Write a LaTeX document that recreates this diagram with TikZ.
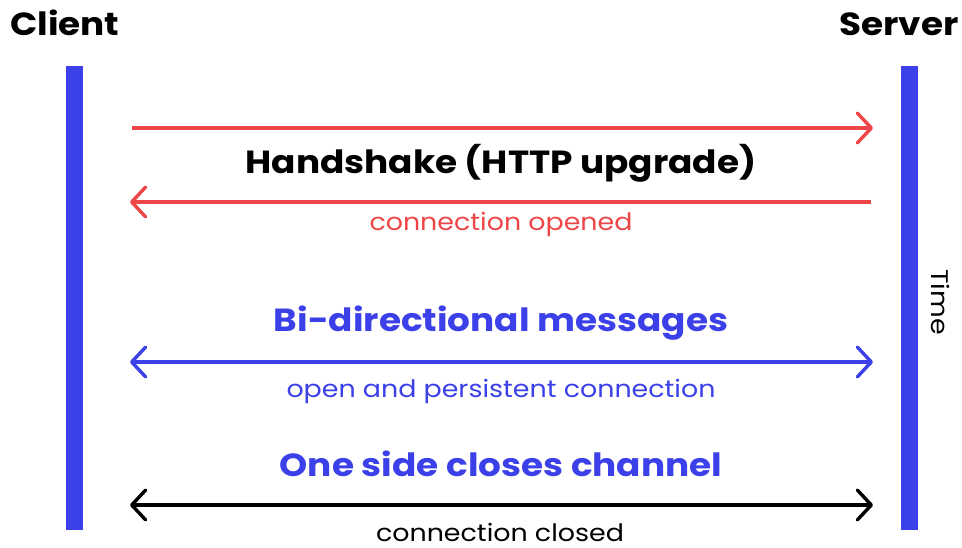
\documentclass[tikz,border=0pt]{standalone}
\usepackage{fontspec}
\setmainfont{Poppins}[FakeStretch=1.12]
\usetikzlibrary{arrows.meta}
\definecolor{wsred}{RGB}{238,70,72}
\definecolor{wsblue}{RGB}{59,64,232}
\begin{document}
\begin{tikzpicture}[x=1pt,y=-1pt,
  lifeline/.style={fill=wsblue,draw=none},
  barb/.tip={Straight Barb[length=14pt,width=30pt,line cap=round,line join=round]},
  msg/.style={line width=3.4pt},
  head/.style={font=\bfseries\fontsize{32}{36}\selectfont,inner sep=0pt},
  title/.style={font=\bfseries\fontsize{32}{36}\selectfont,inner sep=0pt,anchor=base},
  sub/.style={font=\fontsize{24}{28}\selectfont,inner sep=0pt,anchor=base}]
\useasboundingbox (0,0) rectangle (962,548);
% participants
\node[head,anchor=base west] (client) at (10,36) {Client};
\node[head,anchor=base east] (server) at (959,36) {Server};
\fill[lifeline] (66,66) rectangle (83,530);
\fill[lifeline] (901,66) rectangle (918,530);
% coordinates
\coordinate (a1s) at (132,128); \coordinate (a1e) at (873,128);
\coordinate (a2s) at (871,202); \coordinate (a2e) at (130,202);
\coordinate (a3s) at (130,362); \coordinate (a3e) at (873,362);
\coordinate (a4s) at (130,505); \coordinate (a4e) at (873,505);
% handshake
\draw[msg,wsred,-barb] (a1s) -- (a1e);
\node[title] (hs) at (501,174) {Handshake (HTTP upgrade)};
\draw[msg,wsred,-barb] (a2s) -- (a2e);
\node[sub,text=wsred] (co) at (501,231) {connection opened};
% bidirectional
\node[title,text=wsblue] (bi) at (501,332) {Bi-directional messages};
\draw[msg,wsblue,barb-barb] (a3s) -- (a3e);
\node[sub,text=wsblue] (op) at (501,397) {open and persistent connection};
% close
\node[title,text=wsblue] (cl) at (501,476) {One side closes channel};
\draw[msg,black,barb-barb] (a4s) -- (a4e);
\node[sub] (cc) at (500,541) {connection closed};
% time
\node[sub,rotate=-90,anchor=center] (time) at (941,302) {Time};
\end{tikzpicture}
\end{document}
